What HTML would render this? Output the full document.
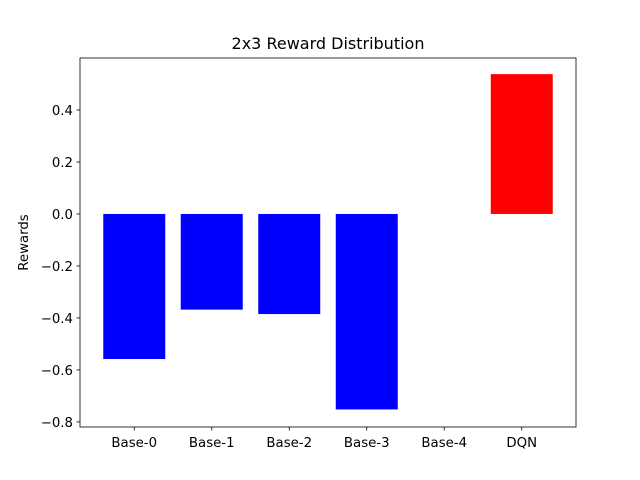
<!DOCTYPE html>
<html><head><meta charset="utf-8"><style>
body{margin:0;background:#fff;}
svg{display:block;font-family:"DejaVu Sans","Liberation Sans",sans-serif;}
</style></head><body>
<svg id="chart" width="640" height="480"></svg>
<script>
const categories = ["Base-0","Base-1","Base-2","Base-3","Base-4","DQN"];
const rewards = [-0.558,-0.368,-0.385,-0.752,0,0.538];
const barColors = ["blue","blue","blue","blue","blue","red"];
const yTicks = [-0.8,-0.6,-0.4,-0.2,0.0,0.2,0.4];
const yTickLabels = ["\u22120.8","\u22120.6","\u22120.4","\u22120.2","0.0","0.2","0.4"];

const NS="http://www.w3.org/2000/svg";
const svg=document.getElementById('chart');
const L=80,R=576,T=58,B=427;
const xMin=-0.7,xMax=5.7;
const yMin=-0.8195,yMax=0.6;
const xs=v=>L+(v-xMin)/(xMax-xMin)*(R-L);
const ys=v=>B-(v-yMin)/(yMax-yMin)*(B-T);
function mk(tag,attrs,parent){const e=document.createElementNS(NS,tag);for(const k in attrs)e.setAttribute(k,attrs[k]);(parent||svg).appendChild(e);return e;}

const bars=mk('g',{});


categories.forEach((c,i)=>{
  const v=rewards[i];
  const x0=xs(i-0.4),x1=xs(i+0.4);
  const y0=ys(Math.max(v,0)),y1=ys(Math.min(v,0));
  const r=mk('rect',{x:x0,y:y0,width:x1-x0,height:Math.max(y1-y0,0),fill:barColors[i]},bars);
  
  
});

const frame=mk('rect',{x:L,y:T,width:R-L,height:B-T,fill:'none',stroke:'#000','stroke-width':0.8});



const yAxis=mk('g',{});


yTicks.forEach((t,i)=>{
  const y=ys(t);
  mk('line',{x1:L-3.5,x2:L,y1:y,y2:y,stroke:'#000','stroke-width':0.8},yAxis);
  const tx=mk('text',{x:L-7,y:y+5,'text-anchor':'end','font-size':13.3},yAxis);
  tx.textContent=yTickLabels[i];
  
  
});
const xAxis=mk('g',{});


categories.forEach((c,i)=>{
  const x=xs(i);
  mk('line',{x1:x,x2:x,y1:B,y2:B+3.5,stroke:'#000','stroke-width':0.8},xAxis);
  const tx=mk('text',{x:x,y:B+20,'text-anchor':'middle','font-size':13.3},xAxis);
  tx.textContent=c;
  
  
});
const yl=mk('text',{x:0,y:0,'text-anchor':'middle','font-size':13.3,transform:`translate(28,${(T+B)/2}) rotate(-90)`});
yl.textContent='Rewards';


const title=mk('text',{x:(L+R)/2,y:T-9,'text-anchor':'middle','font-size':16});
title.textContent='2x3 Reward Distribution';


</script>
</body></html>
